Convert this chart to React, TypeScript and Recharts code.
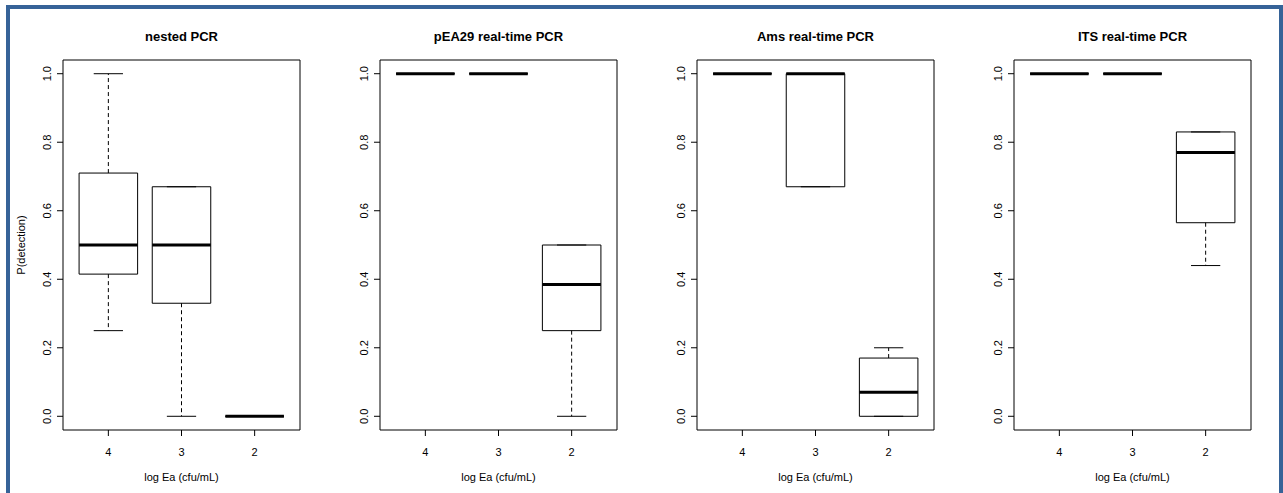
import {
  ComposedChart,
  Line,
  XAxis,
  YAxis,
  ReferenceArea,
  Customized,
} from "recharts";

const FONT = "'Liberation Sans', Arial, Helvetica, sans-serif";

const levels = ["4", "3", "2"];
const yTicks = [0, 0.2, 0.4, 0.6, 0.8, 1.0];
const titles = [
  "nested PCR",
  "pEA29 real-time PCR",
  "Ams real-time PCR",
  "ITS real-time PCR",
];

// five-number summary per level (4, 3, 2): [min, q1, median, q3, max]
const nestedPcr = [
  [0.25, 0.415, 0.5, 0.71, 1.0],
  [0, 0.33, 0.5, 0.67, 0.67],
  [0, 0, 0, 0, 0],
];
const pea29Pcr = [
  [1, 1, 1, 1, 1],
  [1, 1, 1, 1, 1],
  [0, 0.25, 0.385, 0.5, 0.5],
];
const amsPcr = [
  [1, 1, 1, 1, 1],
  [0.67, 0.67, 1, 1, 1],
  [0, 0, 0.07, 0.17, 0.2],
];
const itsPcr = [
  [1, 1, 1, 1, 1],
  [1, 1, 1, 1, 1],
  [0.44, 0.565, 0.77, 0.83, 0.83],
];

const panels = [nestedPcr, pea29Pcr, amsPcr, itsPcr];
const frameLeft = [63, 380, 697, 1014];

const BOX = 0.4; // half box width (R boxwex 0.8)
const CAP = 0.2; // half whisker cap width
const Y_AXIS_W = 55;
const PLOT_W = 237;

type Pt = { x: number; y: number | null };

// turn the summaries into line segments (null = break)
const buildParts = (stats: number[][]) => {
  const box: Pt[] = [];
  const med: Pt[] = [];
  const whisk: Pt[] = [];
  const cap: Pt[] = [];
  stats.forEach(([mn, q1, md, q3, mx], i) => {
    const x = i + 1;
    box.push(
      { x: x - BOX, y: q1 },
      { x: x + BOX, y: q1 },
      { x: x + BOX, y: q3 },
      { x: x - BOX, y: q3 },
      { x: x - BOX, y: q1 },
      { x, y: null }
    );
    med.push({ x: x - BOX, y: md }, { x: x + BOX, y: md }, { x, y: null });
    whisk.push(
      { x, y: q3 },
      { x, y: mx },
      { x, y: null },
      { x, y: q1 },
      { x, y: mn },
      { x, y: null }
    );
    cap.push(
      { x: x - CAP, y: mx },
      { x: x + CAP, y: mx },
      { x, y: null },
      { x: x - CAP, y: mn },
      { x: x + CAP, y: mn },
      { x, y: null }
    );
  });
  return { box, med, whisk, cap };
};

const RotTick = (props: any) => {
  const { x, y, payload } = props;
  return (
    <text
      x={x}
      y={y}
      transform={`rotate(-90 ${x} ${y})`}
      textAnchor="middle"
      fontSize={11}
      fontFamily={FONT}
      fill="#000"
    >
      {Number(payload.value).toFixed(1)}
    </text>
  );
};

const PanelText = ({ title, yLabel }: { title: string; yLabel: boolean }) => {
  const cx = Y_AXIS_W + PLOT_W / 2;
  return (
    <g fontFamily={FONT} fill="#000">
      <text x={cx} y={41} textAnchor="middle" fontSize={13} fontWeight="bold">
        {title}
      </text>
      <text x={cx} y={480.5} textAnchor="middle" fontSize={11}>
        log Ea (cfu/mL)
      </text>
      {yLabel && (
        <text
          x={16.5}
          y={245}
          transform="rotate(-90 16.5 245)"
          textAnchor="middle"
          fontSize={11}
        >
          P(detection)
        </text>
      )}
    </g>
  );
};

const Panel = ({ index }: { index: number }) => {
  const { box, med, whisk, cap } = buildParts(panels[index]);
  return (
    <div
      style={{
        position: "absolute",
        left: frameLeft[index] - Y_AXIS_W,
        top: 0,
      }}
    >
      <ComposedChart
        width={Y_AXIS_W + PLOT_W + 5}
        height={493}
        margin={{ top: 60, right: 5, bottom: 0, left: 0 }}
      >
        <XAxis
          type="number"
          dataKey="x"
          domain={[0.38, 3.62]}
          ticks={[1, 2, 3]}
          interval={0}
          allowDataOverflow
          tickFormatter={(v: number) => levels[Math.round(v) - 1]}
          axisLine={false}
          tickSize={6}
          tickMargin={12}
          height={63}
          tick={{ fill: "#000", fontSize: 11, fontFamily: FONT }}
          tickLine={{ stroke: "#000" }}
        />
        <YAxis
          type="number"
          domain={[-0.04, 1.04]}
          ticks={yTicks}
          interval={0}
          allowDataOverflow
          width={Y_AXIS_W}
          axisLine={false}
          tickSize={6}
          tickMargin={6}
          tick={RotTick}
          tickLine={{ stroke: "#000" }}
        />
        <ReferenceArea
          x1={0.38}
          x2={3.62}
          y1={-0.04}
          y2={1.04}
          fill="none"
          stroke="#000"
          strokeWidth={1}
          ifOverflow="visible"
        />
        {/* whiskers */}
        <Line
          data={whisk}
          dataKey="y"
          stroke="#000"
          strokeWidth={1}
          strokeDasharray="4 3"
          dot={false}
          activeDot={false}
          isAnimationActive={false}
        />
        <Line
          data={cap}
          dataKey="y"
          stroke="#000"
          strokeWidth={1}
          dot={false}
          activeDot={false}
          isAnimationActive={false}
        />
        {/* boxes */}
        <Line
          data={box}
          dataKey="y"
          stroke="#000"
          strokeWidth={1}
          dot={false}
          activeDot={false}
          isAnimationActive={false}
        />
        {/* medians */}
        <Line
          data={med}
          dataKey="y"
          stroke="#000"
          strokeWidth={3}
          dot={false}
          activeDot={false}
          isAnimationActive={false}
        />
        <Customized
          component={<PanelText title={titles[index]} yLabel={index === 0} />}
        />
      </ComposedChart>
    </div>
  );
};

export default function App() {
  return (
    <div
      style={{
        position: "absolute",
        left: 0,
        top: 0,
        width: 1283,
        height: 493,
        background: "#fff",
        overflow: "hidden",
      }}
    >
      <div
        style={{
          position: "absolute",
          left: 6,
          top: 5,
          width: 1277,
          height: 488,
          boxSizing: "border-box",
          borderTop: "4px solid #366398",
          borderLeft: "4px solid #366398",
          borderRight: "4px solid #366398",
        }}
      />
      {panels.map((_, i) => (
        <Panel key={i} index={i} />
      ))}
    </div>
  );
}
